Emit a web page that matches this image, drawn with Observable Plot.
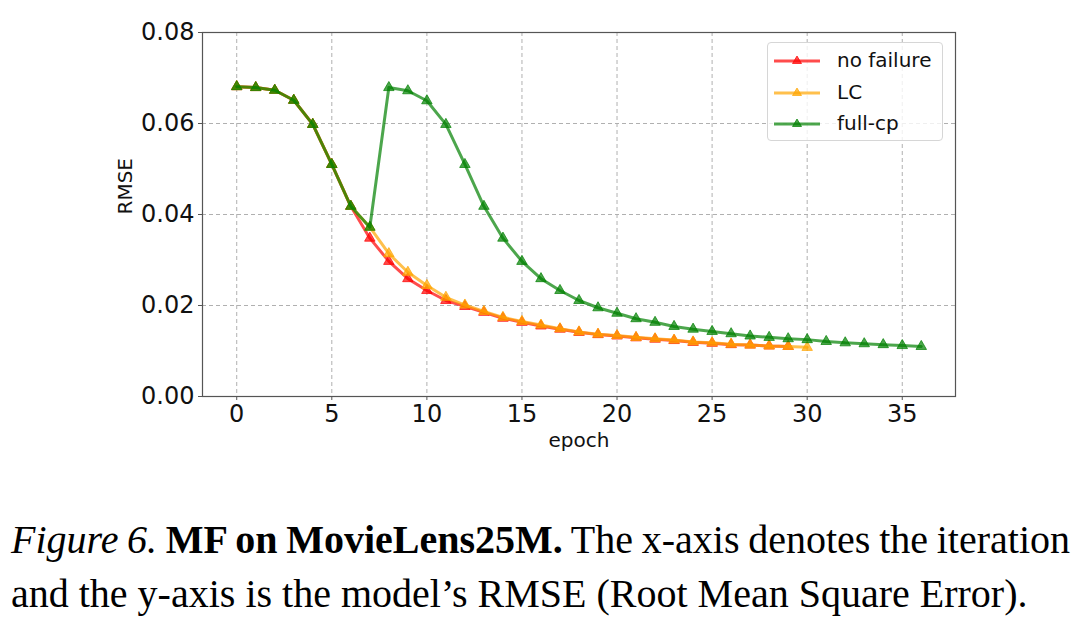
<!DOCTYPE html>
<html>
<head>
<meta charset="utf-8">
<script src="https://cdn.jsdelivr.net/npm/d3@7"></script>
<script src="https://cdn.jsdelivr.net/npm/@observablehq/plot@0.6"></script>
<style>
  body { margin: 0; background: #fff; width: 1078px; height: 626px; overflow: hidden; position: relative; }
  #chart { position: absolute; left: 0; top: 0; }
  #legend { position: absolute; left: 767px; top: 42px; width: 176px; height: 99px; border: 1px solid #d6d6d6; border-radius: 4px; background: rgba(255,255,255,0.8); font-family: "DejaVu Sans", sans-serif; font-size: 20px; color: #111; box-sizing: border-box; }
  .row { position: absolute; left: 0; height: 24px; display: flex; align-items: center; }
  .row svg { margin-left: 5px; }
  .row span { margin-left: 16px; }
  #caption { position: absolute; left: 11px; top: 513px; width: 1059px; font-family: "Liberation Serif", "Times New Roman", serif; font-size: 40px; line-height: 54px; color: #000; }
  #l1 { text-align: justify; text-align-last: justify; white-space: nowrap; word-spacing: -5px; }
  #l2 { white-space: nowrap; }
</style>
</head>
<body>
<div id="chart"></div>
<div id="legend"></div>
<div id="caption">
  <div id="l1"><i>Figure 6.</i> <b>MF on MovieLens25M.</b> The x-axis denotes the iteration</div>
  <div id="l2">and the y-axis is the model’s RMSE (Root Mean Square Error).</div>
</div>
<script>
// ---- data ----
const seriesNames = ["no failure", "LC", "full-cp"];
const seriesColors = ["#ff0000", "#ffa500", "#008000"];
const noFailure = [0.0681, 0.0679, 0.0673, 0.0651, 0.0598, 0.0510, 0.0418, 0.0348, 0.0297, 0.0259,
  0.0233, 0.0211, 0.0198, 0.0185, 0.0172, 0.0163, 0.0155, 0.0148, 0.0141, 0.0136,
  0.0133, 0.0129, 0.0126, 0.0123, 0.0119, 0.0117, 0.0114, 0.0113, 0.0111, 0.0110];
const lc = [0.0681, 0.0679, 0.0673, 0.0651, 0.0598, 0.0510, 0.0418, 0.0372, 0.0314, 0.0273,
  0.0244, 0.0218, 0.0201, 0.0187, 0.0174, 0.0165, 0.0157, 0.0149, 0.0142, 0.0137,
  0.0134, 0.0130, 0.0127, 0.0124, 0.0120, 0.0118, 0.0115, 0.0113, 0.0111, 0.0110, 0.0108];
const fullCp = [0.0681, 0.0679, 0.0673, 0.0651, 0.0598, 0.0510, 0.0418, 0.0372, 0.0679, 0.0672,
  0.0650, 0.0598, 0.0510, 0.0418, 0.0348, 0.0297, 0.0259, 0.0233, 0.0211, 0.0195,
  0.0183, 0.0171, 0.0163, 0.0154, 0.0148, 0.0143, 0.0138, 0.0133, 0.0130, 0.0127,
  0.0125, 0.0121, 0.0118, 0.0116, 0.0114, 0.0112, 0.0110];
const xTicks = [0, 5, 10, 15, 20, 25, 30, 35];
const yTicks = [0.00, 0.02, 0.04, 0.06, 0.08];

const allSeries = [noFailure, lc, fullCp];
const rows = allSeries.flatMap((vals, s) => vals.map((v, i) => ({epoch: i, rmse: v, series: seriesNames[s]})));

const font = "DejaVu Sans, sans-serif";
const lineMarks = seriesNames.flatMap((name, s) => {
  const d = rows.filter(r => r.series === name);
  return [
    Plot.line(d, {x: "epoch", y: "rmse", stroke: seriesColors[s], strokeWidth: 3, strokeOpacity: 0.7}),
    Plot.dot(d, {x: "epoch", y: "rmse", symbol: "triangle", r: 3.9, fill: seriesColors[s], fillOpacity: 0.7, stroke: seriesColors[s], strokeOpacity: 0.7, strokeWidth: 1})
  ];
});

const chart = Plot.plot({
  width: 1078,
  height: 460,
  marginLeft: 202,
  marginRight: 123,
  marginTop: 32,
  marginBottom: 64,
  style: {fontFamily: font, background: "white", color: "#111"},
  x: {domain: [-1.8, 37.8]},
  y: {domain: [0, 0.08]},
  marks: [
    Plot.gridX(xTicks, {stroke: "#b0b0b0", strokeOpacity: 1, strokeDasharray: "4,3", strokeWidth: 1}),
    Plot.gridY(yTicks, {stroke: "#b0b0b0", strokeOpacity: 1, strokeDasharray: "4,3", strokeWidth: 1}),
    ...lineMarks,
    Plot.frame({stroke: "#555", strokeWidth: 1.2}),
    Plot.axisX(xTicks, {tickSize: 4, tickPadding: 4, fontSize: 24, label: null, stroke: "#555"}),
    Plot.axisY(yTicks, {tickSize: 4, tickPadding: 4, fontSize: 24, label: null, tickFormat: d3.format(".2f"), stroke: "#555"}),
    Plot.text(["epoch"], {frameAnchor: "bottom", dy: 50, fontSize: 20, fill: "#111"}),
    Plot.text(["RMSE"], {frameAnchor: "left", dx: -77, rotate: -90, fontSize: 20, fill: "#111"})
  ]
});
document.getElementById("chart").appendChild(chart);

// ---- legend ----
const legend = document.getElementById("legend");
seriesNames.forEach((name, s) => {
  const row = document.createElement("div");
  row.className = "row";
  row.style.top = (5 + s * 31.5) + "px";
  const c = seriesColors[s];
  row.innerHTML = `<svg width="48" height="16"><line x1="1" y1="9" x2="47" y2="9" stroke="${c}" stroke-opacity="0.7" stroke-width="3"/><path d="M24,4 L28.5,11.5 L19.5,11.5 Z" fill="${c}" fill-opacity="0.7" stroke="${c}" stroke-opacity="0.7"/></svg><span>${name}</span>`;
  legend.appendChild(row);
});
</script>
</body>
</html>
